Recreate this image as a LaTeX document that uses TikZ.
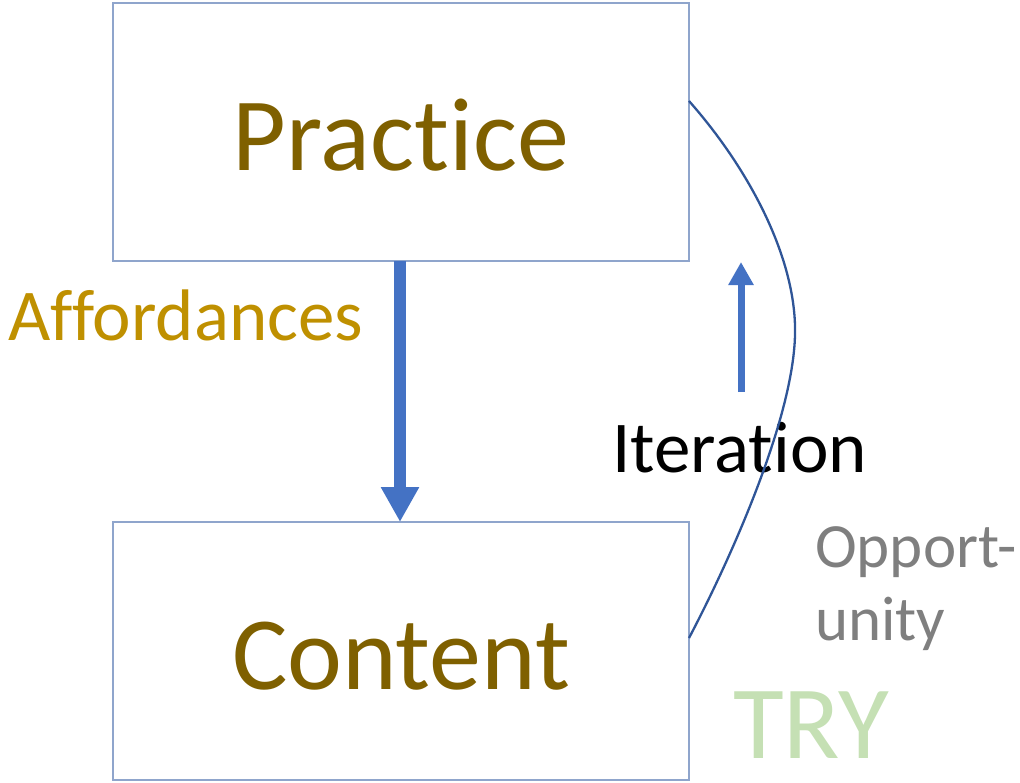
\documentclass[tikz,border=0pt]{standalone}
\usepackage{fontspec}
\setmainfont{Carlito}[Ligatures=NoCommon, RawFeature={-liga;-clig;-dlig;-calt}]
\usetikzlibrary{arrows.meta}
\definecolor{boxline}{HTML}{8FA5CC}
\definecolor{arrowblue}{HTML}{4472C4}
\definecolor{curveblue}{HTML}{2F5597}
\definecolor{darkgold}{HTML}{7F6000}
\definecolor{gold}{HTML}{BF9000}
\definecolor{greytext}{HTML}{7F7F7F}
\definecolor{lightgreen}{HTML}{C5E0B4}
\tikzset{
  mainbox/.style={draw=boxline, line width=1.3pt, minimum width=576pt, minimum height=258pt, inner sep=0pt},
  bigtext/.style={font=\fontsize{104}{110}\selectfont, text=darkgold, anchor=base, inner sep=0pt},
  label72/.style={font=\fontsize{73}{80}\selectfont, anchor=base west, inner sep=0pt},
  fatarrow/.style={draw=arrowblue, line width=12pt, -{Triangle[length=35pt,width=36pt]}},
  thinarrow/.style={draw=arrowblue, line width=7pt, -{Triangle[length=23pt,width=24pt]}},
}
\begin{document}
\begin{tikzpicture}[x=1pt,y=-1pt]
\useasboundingbox (0,0) rectangle (1020,782);
\node[mainbox] (practice) at (401,132) {};
\node[mainbox] (content) at (401,651) {};
\node[bigtext] (ptext) at (401,170) {Practice};
\node[bigtext] (ctext) at (401,689) {Content};
\draw[fatarrow] (400,261) -- (400,522);
\node[label72, text=gold] (aff) at (8,340) {Affordances};
\coordinate (iterlow) at (741,392);
\coordinate (iterhigh) at (741,262);
\draw[thinarrow] (iterlow) -- (iterhigh);
\node[label72] (iter) at (612,472) {Iteration};
\coordinate (cstart) at (689,101);
\coordinate (cmid) at (795,335);
\coordinate (cend) at (689,638);
\draw[curveblue, line width=2.3pt] (cstart) .. controls (750,170) and (797,260) .. (cmid) .. controls (793,420) and (730,560) .. (cend);
\node[font=\fontsize{63}{70}\selectfont, text=greytext, anchor=base west, inner sep=0pt] (opp1) at (815,567) {Opport-};
\node[font=\fontsize{63}{70}\selectfont, text=greytext, anchor=base west, inner sep=0pt] (opp2) at (815,640) {unity};
\node[font=\fontsize{104}{110}\selectfont, text=lightgreen, anchor=base west, inner sep=0pt] (try) at (733,758) {TRY};
\end{tikzpicture}
\end{document}
